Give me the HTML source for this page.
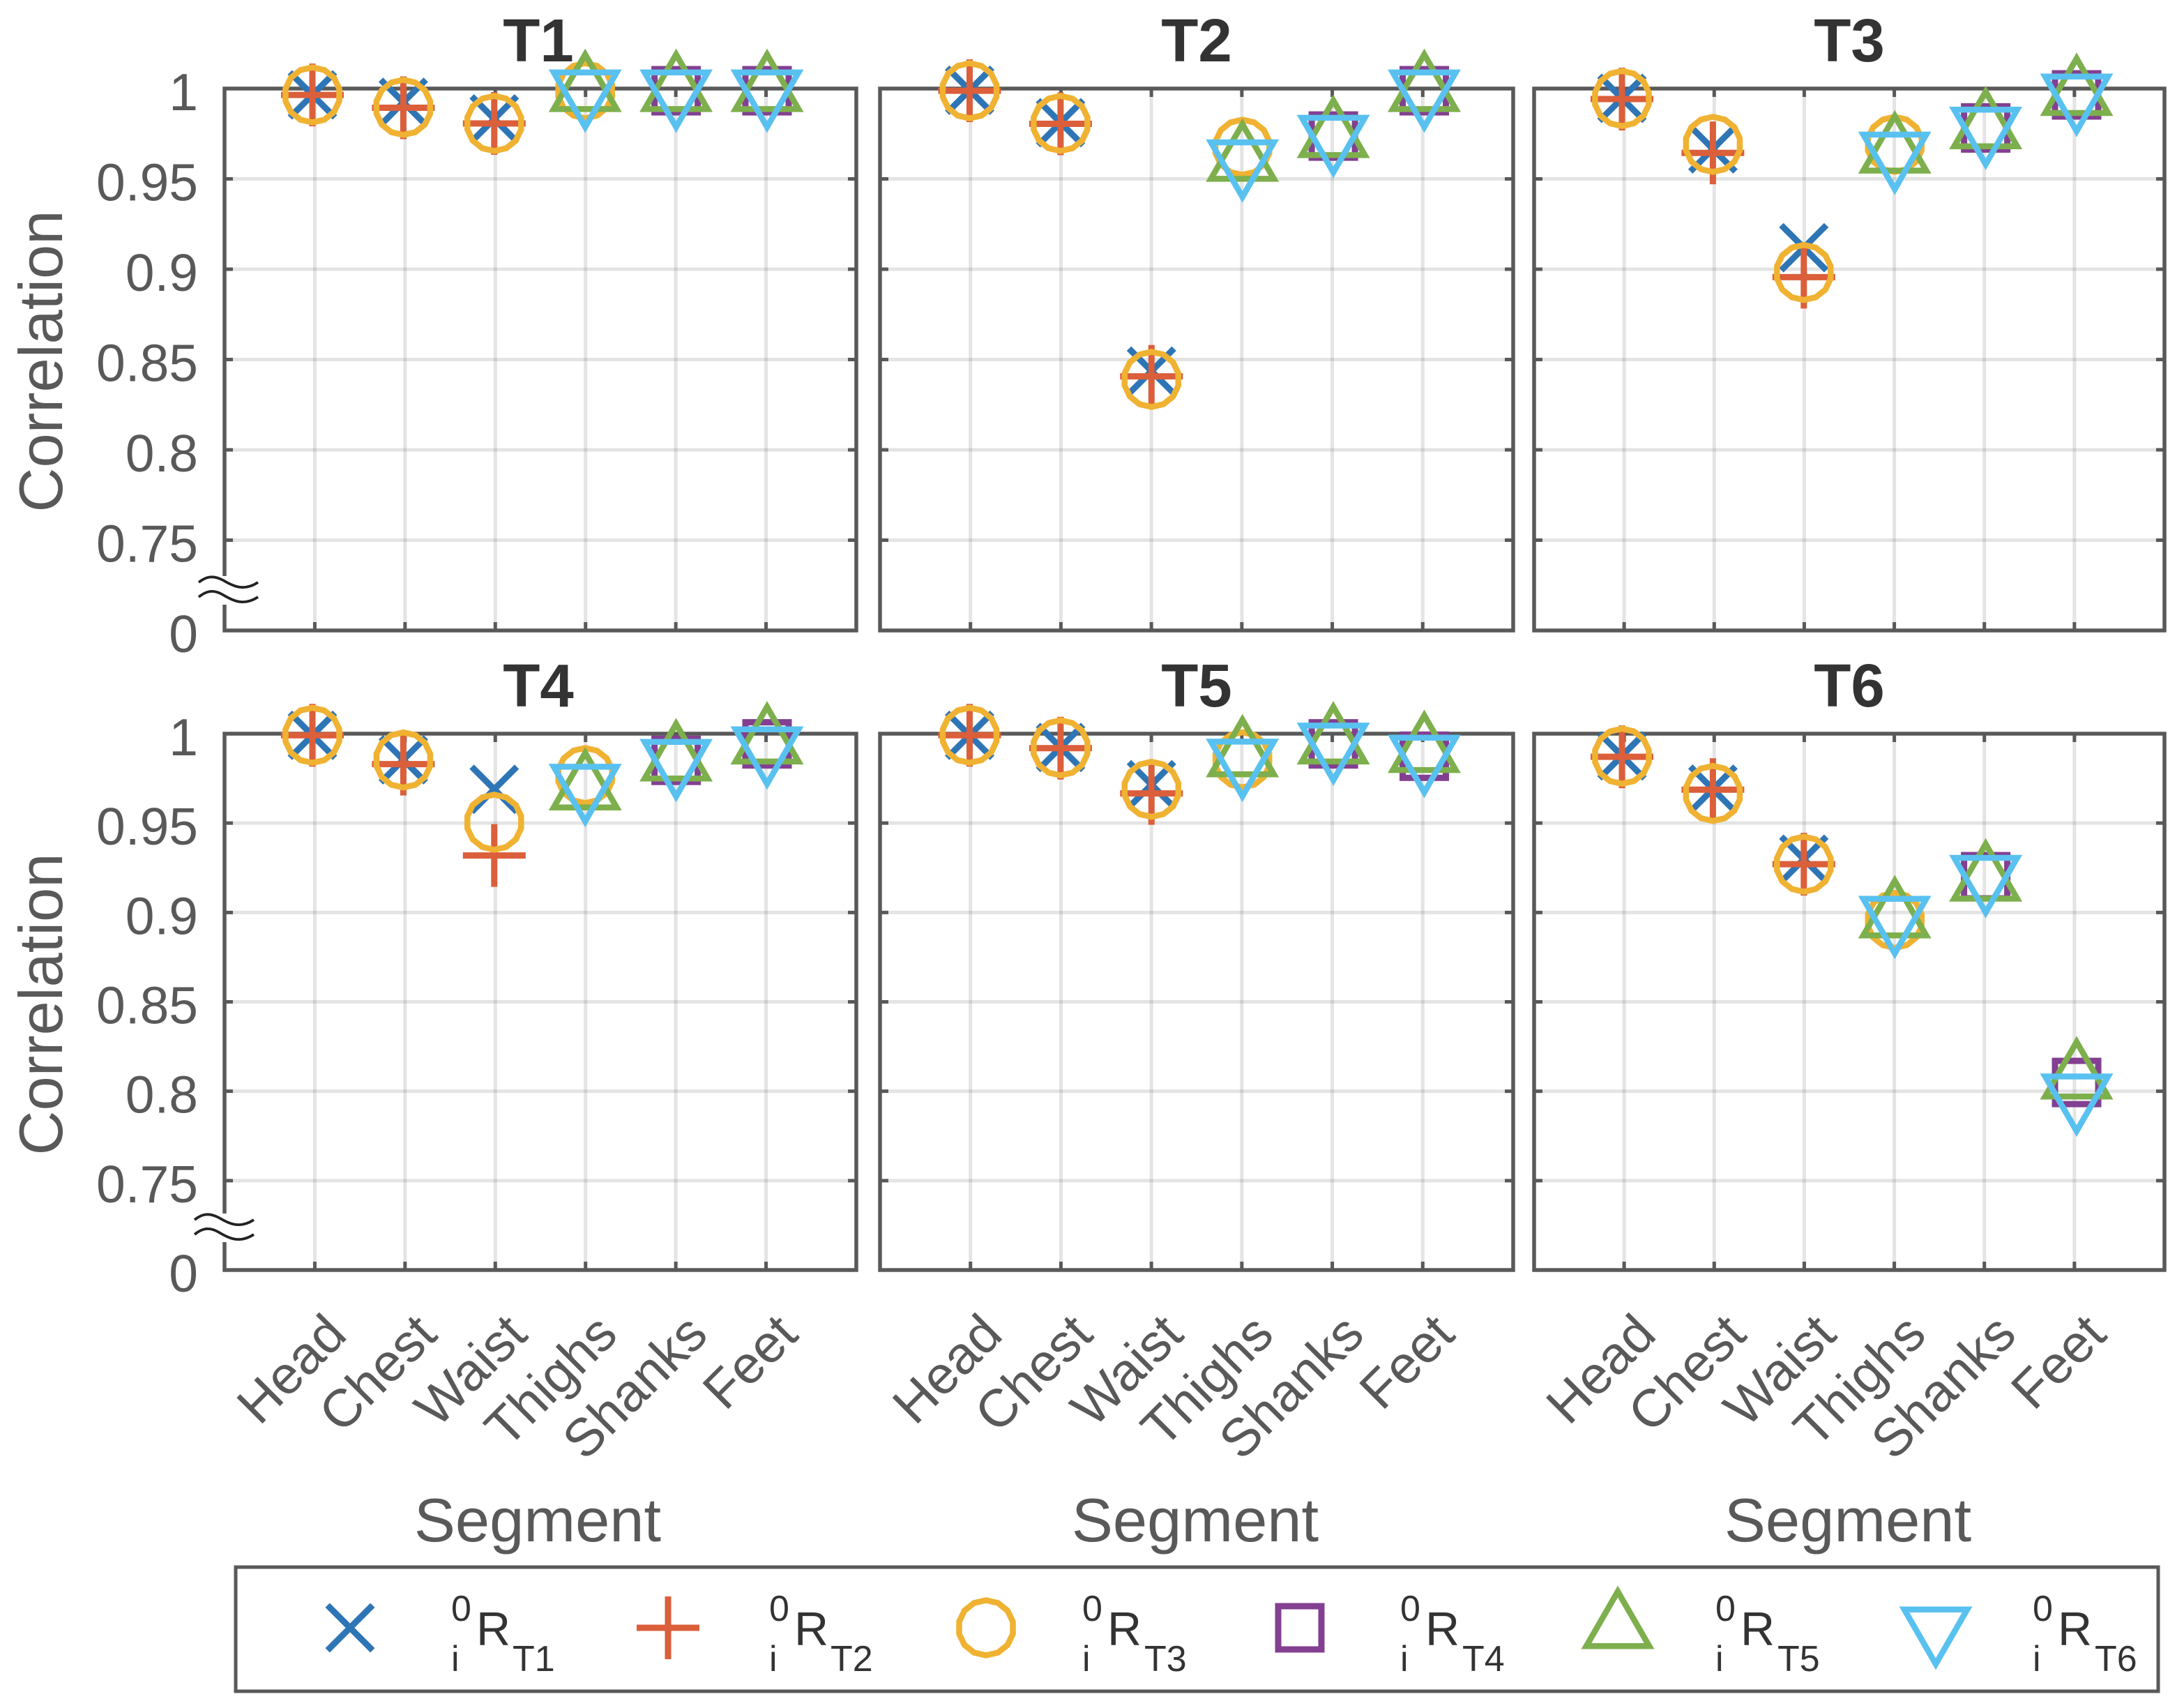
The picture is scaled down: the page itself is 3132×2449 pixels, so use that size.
<!DOCTYPE html>
<html lang="en">
<head>
<meta charset="utf-8">
<title>Correlation per segment, T1 to T6</title>
<style>
  html, body { margin: 0; padding: 0; background: #ffffff; }
  svg { display: block; }
  text { font-family: "Liberation Sans", Arial, sans-serif; }
  .tick { font-size: 75px; fill: #595959; }
  .xtick { font-size: 76px; fill: #595959; }
  .title { font-size: 87px; font-weight: bold; fill: #333333; text-anchor: middle; }
  .axis-title { font-size: 88.5px; fill: #595959; text-anchor: middle; }
  .leg-sm { font-size: 52px; fill: #333333; }
  .leg-lg { font-size: 68px; fill: #333333; }
</style>
</head>
<body>
<svg id="chart" xmlns="http://www.w3.org/2000/svg" width="3132" height="2449" viewBox="0 0 3132 2449">
  <rect x="0" y="0" width="3132" height="2449" fill="#ffffff"/>
  <g id="panels"></g>

  <text class="title" x="772" y="88">T1</text>
  <text class="title" x="1716" y="88">T2</text>
  <text class="title" x="2652" y="88">T3</text>
  <text class="title" x="772" y="1013">T4</text>
  <text class="title" x="1716" y="1013">T5</text>
  <text class="title" x="2652" y="1013">T6</text>

  <text class="axis-title" transform="translate(89 518) rotate(-90)">Correlation</text>
  <text class="axis-title" transform="translate(89 1440) rotate(-90)">Correlation</text>
  <text class="axis-title" x="771" y="2210">Segment</text>
  <text class="axis-title" x="1714" y="2210">Segment</text>
  <text class="axis-title" x="2650" y="2210">Segment</text>

  <g id="marks"></g>

  <g>
    <rect x="338" y="2247" width="2757" height="178" fill="none" stroke="#595959" stroke-width="5"/>
    <g id="legend-marks"></g>
    <g>
      <text class="leg-sm" x="647" y="2324">0</text><text class="leg-sm" x="647" y="2396">i</text><text class="leg-lg" x="683" y="2359">R</text><text class="leg-sm" x="735" y="2396">T1</text>
    </g>
    <g>
      <text class="leg-sm" x="1103" y="2324">0</text><text class="leg-sm" x="1103" y="2396">i</text><text class="leg-lg" x="1139" y="2359">R</text><text class="leg-sm" x="1191" y="2396">T2</text>
    </g>
    <g>
      <text class="leg-sm" x="1552" y="2324">0</text><text class="leg-sm" x="1552" y="2396">i</text><text class="leg-lg" x="1588" y="2359">R</text><text class="leg-sm" x="1641" y="2396">T3</text>
    </g>
    <g>
      <text class="leg-sm" x="2008" y="2324">0</text><text class="leg-sm" x="2008" y="2396">i</text><text class="leg-lg" x="2044" y="2359">R</text><text class="leg-sm" x="2097" y="2396">T4</text>
    </g>
    <g>
      <text class="leg-sm" x="2460" y="2324">0</text><text class="leg-sm" x="2460" y="2396">i</text><text class="leg-lg" x="2496" y="2359">R</text><text class="leg-sm" x="2549" y="2396">T5</text>
    </g>
    <g>
      <text class="leg-sm" x="2915" y="2324">0</text><text class="leg-sm" x="2915" y="2396">i</text><text class="leg-lg" x="2951" y="2359">R</text><text class="leg-sm" x="3004" y="2396">T6</text>
    </g>
  </g>
</svg>

<script>
// ---- chart data ----
const categories = ['Head', 'Chest', 'Waist', 'Thighs', 'Shanks', 'Feet'];
const yTickValues = [1, 0.95, 0.9, 0.85, 0.8, 0.75, 0.7];
const yTickLabels = ['1', '0.95', '0.9', '0.85', '0.8', '0.75', '0'];
const seriesNames = ['rt1', 'rt2', 'rt3', 'rt4', 'rt5', 'rt6'];
const panelNames = ['t1', 't2', 't3', 't4', 't5', 't6'];

const t1Rt1 = [0.9965, 0.9924, 0.9832, null, null, null];
const t1Rt2 = [0.9965, 0.9894, 0.9807, null, null, null];
const t1Rt3 = [0.9965, 0.9896, 0.9807, 0.9988, null, null];
const t1Rt4 = [null, null, null, null, 0.9988, 0.9988];
const t1Rt5 = [null, null, null, 0.9988, 0.9988, 0.9988];
const t1Rt6 = [null, null, null, 0.9988, 0.9988, 0.9988];

const t2Rt1 = [0.9991, 0.9811, 0.8436, null, null, null];
const t2Rt2 = [0.9988, 0.9805, 0.8407, null, null, null];
const t2Rt3 = [0.9988, 0.9807, 0.839, 0.9675, null, null];
const t2Rt4 = [null, null, null, null, 0.9737, 0.9988];
const t2Rt5 = [null, null, null, 0.9602, 0.9733, 0.9988];
const t2Rt6 = [null, null, null, 0.9601, 0.9737, 0.9988];

const t3Rt1 = [0.9946, 0.9666, 0.9119, null, null, null];
const t3Rt2 = [0.9942, 0.9644, 0.8956, null, null, null];
const t3Rt3 = [0.9945, 0.9691, 0.8982, 0.9691, null, null];
const t3Rt4 = [null, null, null, null, 0.9782, 0.9965];
const t3Rt5 = [null, null, null, 0.9647, 0.9782, 0.9966];
const t3Rt6 = [null, null, null, 0.9644, 0.9782, 0.9965];

const t4Rt1 = [0.9991, 0.9854, 0.9689, null, null, null];
const t4Rt2 = [0.9991, 0.983, 0.9319, null, null, null];
const t4Rt3 = [0.9991, 0.9853, 0.9505, 0.9766, null, null];
const t4Rt4 = [null, null, null, null, 0.9851, 0.9943];
const t4Rt5 = [null, null, null, 0.969, 0.9852, 0.9947];
const t4Rt6 = [null, null, null, 0.9713, 0.9852, 0.9922];

const t5Rt1 = [0.9991, 0.9923, 0.9715, null, null, null];
const t5Rt2 = [0.9991, 0.9919, 0.9666, null, null, null];
const t5Rt3 = [0.9991, 0.9921, 0.9689, 0.9854, null, null];
const t5Rt4 = [null, null, null, null, 0.9943, 0.9874];
const t5Rt5 = [null, null, null, 0.9875, 0.9947, 0.9899];
const t5Rt6 = [null, null, null, 0.9853, 0.9943, 0.9875];

const t6Rt1 = [0.9876, 0.969, 0.9298, null, null, null];
const t6Rt2 = [0.9871, 0.9687, 0.927, null, null, null];
const t6Rt3 = [0.9874, 0.9666, 0.927, 0.8956, null, null];
const t6Rt4 = [null, null, null, null, 0.92, 0.8049];
const t6Rt5 = [null, null, null, 0.8974, 0.918, 0.8073];
const t6Rt6 = [null, null, null, 0.8974, 0.9203, 0.798];

const panelSeries = [
  [t1Rt1, t1Rt2, t1Rt3, t1Rt4, t1Rt5, t1Rt6],
  [t2Rt1, t2Rt2, t2Rt3, t2Rt4, t2Rt5, t2Rt6],
  [t3Rt1, t3Rt2, t3Rt3, t3Rt4, t3Rt5, t3Rt6],
  [t4Rt1, t4Rt2, t4Rt3, t4Rt4, t4Rt5, t4Rt6],
  [t5Rt1, t5Rt2, t5Rt3, t5Rt4, t5Rt5, t5Rt6],
  [t6Rt1, t6Rt2, t6Rt3, t6Rt4, t6Rt5, t6Rt6]
];

// ---- layout ----
const SVGNS = 'http://www.w3.org/2000/svg';
const AXIS = '#595959';
const colors = ['#2E75B6', '#DB5F3A', '#F0B232', '#833F91', '#7DAF4D', '#59C1F0'];
const shapes = ['cross', 'plus', 'circle', 'square', 'up', 'down'];
const frames = [
  { l: 322, r: 1228, t: 127, b: 904, m0: 448 },
  { l: 1262, r: 2170, t: 127, b: 904, m0: 1390.5 },
  { l: 2200, r: 3104, t: 127, b: 904, m0: 2326 },
  { l: 322, r: 1228, t: 1052, b: 1821, m0: 448 },
  { l: 1262, r: 2170, t: 1052, b: 1821, m0: 1390.5 },
  { l: 2200, r: 3104, t: 1052, b: 1821, m0: 2326 }
];
const markStep = 130.4;
const xDomainMax = categories.length + 1;
const yDomainMin = yTickValues[yTickValues.length - 1];

function make(tag, attrs, parent) {
  const el = document.createElementNS(SVGNS, tag);
  for (const k in attrs) el.setAttribute(k, attrs[k]);
  parent.appendChild(el);
  return el;
}
function xGrid(f, i) { return f.l + (i + 1) * (f.r - f.l) / xDomainMax; }
function xMark(f, i) { return f.m0 + i * markStep; }
function yPos(f, v) { return f.t + (1 - v) / (1 - yDomainMin) * (f.b - f.t); }

function pointsOf(list, x, y) {
  return list.map(function (p) { return (x + p[0]).toFixed(2) + ',' + (y + p[1]).toFixed(2); }).join(' ');
}

function drawMarker(type, color, x, y, parent) {
  const base = { fill: 'none', stroke: color };
  if (type === 'cross') {
    const s = 32.3;
    return make('path', Object.assign({}, base, { 'stroke-width': 9, d: 'M' + (x - s) + ' ' + (y - s) + 'L' + (x + s) + ' ' + (y + s) + 'M' + (x - s) + ' ' + (y + s) + 'L' + (x + s) + ' ' + (y - s) }), parent);
  }
  if (type === 'plus') {
    const s = 45;
    return make('path', Object.assign({}, base, { 'stroke-width': 9, d: 'M' + (x - s) + ' ' + y + 'L' + (x + s) + ' ' + y + 'M' + x + ' ' + (y - s) + 'L' + x + ' ' + (y + s) }), parent);
  }
  if (type === 'circle') {
    const pts = [];
    const n = 14;
    for (let k = 0; k < n; k++) {
      const a = -Math.PI / 2 + k * 2 * Math.PI / n;
      pts.push([39.5 * Math.cos(a), 39.5 * Math.sin(a)]);
    }
    return make('polygon', Object.assign({}, base, { 'stroke-width': 8.5, points: pointsOf(pts, x, y) }), parent);
  }
  if (type === 'square') {
    return make('rect', Object.assign({}, base, { 'stroke-width': 9, x: x - 31, y: y - 31, width: 62, height: 62 }), parent);
  }
  if (type === 'up') {
    return make('polygon', Object.assign({}, base, { 'stroke-width': 8.5, points: pointsOf([[0, -52], [45.1, 26.25], [-45.1, 26.25]], x, y) }), parent);
  }
  return make('polygon', Object.assign({}, base, { 'stroke-width': 8.5, points: pointsOf([[0, 52], [45.1, -26.25], [-45.1, -26.25]], x, y) }), parent);
}

const panelsRoot = document.getElementById('panels');
const marksRoot = document.getElementById('marks');

frames.forEach(function (f, p) {
  const name = panelNames[p];
  const g = make('g', {}, panelsRoot);
  
  

  // gridlines
  categories.forEach(function (c, i) {
    const line = make('line', { x1: xGrid(f, i), x2: xGrid(f, i), y1: f.t, y2: f.b, stroke: AXIS, 'stroke-opacity': 0.16, 'stroke-width': 5 }, g);
    
    
  });
  yTickValues.forEach(function (v, i) {
    if (i === 0 || i === yTickValues.length - 1) return;
    const line = make('line', { x1: f.l, x2: f.r, y1: yPos(f, v), y2: yPos(f, v), stroke: AXIS, 'stroke-opacity': 0.16, 'stroke-width': 5 }, g);
    
    
  });

  // ticks
  categories.forEach(function (c, i) {
    const x = xGrid(f, i);
    const ticks = make('path', { d: 'M' + x + ' ' + f.t + 'v12M' + x + ' ' + f.b + 'v-12', stroke: AXIS, 'stroke-width': 5, fill: 'none' }, g);
    
    
  });
  yTickValues.forEach(function (v, i) {
    if (i === 0 || i === yTickValues.length - 1) return;
    const y = yPos(f, v);
    const ticks = make('path', { d: 'M' + f.l + ' ' + y + 'h12M' + f.r + ' ' + y + 'h-12', stroke: AXIS, 'stroke-width': 5, fill: 'none' }, g);
    
    
  });

  // axes box
  const box = make('rect', { x: f.l, y: f.t, width: f.r - f.l, height: f.b - f.t, fill: 'none', stroke: AXIS, 'stroke-width': 5.5 }, g);
  
  

  // y tick labels on the left column
  if (p % 3 === 0) {
    yTickValues.forEach(function (v, i) {
      const t = make('text', { class: 'tick', x: 284, y: yPos(f, v) + 31, 'text-anchor': 'end' }, g);
      t.textContent = yTickLabels[i];
      
      
    });
    // axis break
    const top = p === 0;
    const gapY = top ? 826 : 1740;
    const dx = top ? 0 : -6;
    const dy = gapY;
    const cover = make('rect', { x: f.l - 4, y: dy, width: 8, height: 41, fill: '#ffffff' }, g);
    
    
    const wave = make('path', {
      fill: 'none', stroke: '#222222', 'stroke-width': 3.8,
      d: 'M' + (285 + dx) + ' ' + (dy + 9) + 'C' + (295 + dx) + ' ' + (dy + 1) + ' ' + (305 + dx) + ' ' + (dy - 2) + ' ' + (320 + dx) + ' ' + (dy + 6) +
         'C' + (335 + dx) + ' ' + (dy + 15) + ' ' + (350 + dx) + ' ' + (dy + 22) + ' ' + (370 + dx) + ' ' + (dy + 9) +
         'M' + (285 + dx) + ' ' + (dy + 30) + 'C' + (295 + dx) + ' ' + (dy + 22) + ' ' + (305 + dx) + ' ' + (dy + 18) + ' ' + (320 + dx) + ' ' + (dy + 27) +
         'C' + (335 + dx) + ' ' + (dy + 36) + ' ' + (350 + dx) + ' ' + (dy + 43) + ' ' + (370 + dx) + ' ' + (dy + 30)
    }, g);
    
    
  }

  // x tick labels on the bottom row
  if (p >= 3) {
    categories.forEach(function (c, i) {
      const px = xGrid(f, i) + 49;
      const py = f.b + 96;
      const t = make('text', { class: 'xtick', x: px, y: py, 'text-anchor': 'end', transform: 'rotate(-45 ' + px + ' ' + py + ')' }, g);
      t.textContent = c;
      
      
    });
  }

  // data marks
  panelSeries[p].forEach(function (values, s) {
    const sg = make('g', {}, marksRoot);
    
    
    values.forEach(function (v, i) {
      if (v === null) return;
      const el = drawMarker(shapes[s], colors[s], xMark(f, i), yPos(f, v), sg);
      
      
    });
  });
});

// legend markers
const legendRoot = document.getElementById('legend-marks');
const legendX = [502, 958, 1414, 1864, 2320, 2776];
shapes.forEach(function (shape, s) {
  const el = drawMarker(shape, colors[s], legendX[s], 2334, legendRoot);
  
  
});
</script>
</body>
</html>
